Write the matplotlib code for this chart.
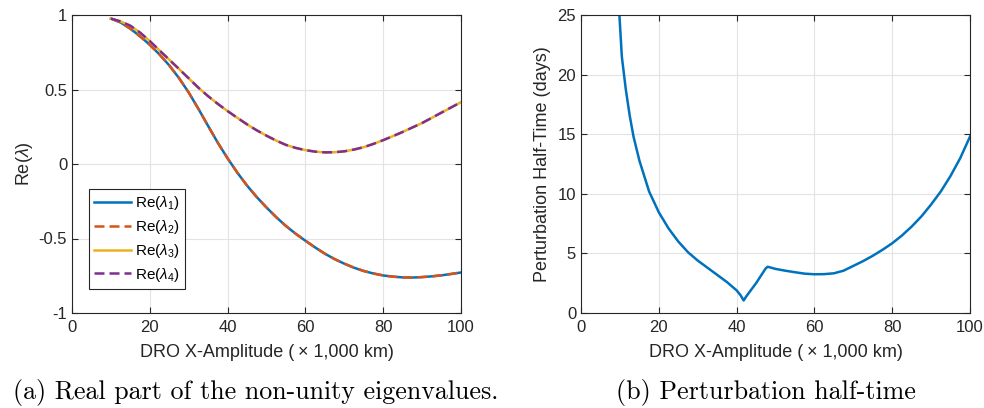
import numpy as np
import matplotlib
matplotlib.use("Agg")
import matplotlib.pyplot as plt

# DRO amplitude (x 1,000 km) and real part of eigenvalues
amp = [10, 12.5, 15, 17.5, 20, 22.5, 25, 27.5, 30, 32.5, 35, 37.5, 40, 42.5, 45,
       47.5, 50, 52.5, 55, 57.5, 60, 62.5, 65, 67.5, 70, 72.5, 75, 77.5, 80, 82.5,
       85, 87.5, 90, 92.5, 95, 97.5, 100]
re_l12 = [0.976, 0.95, 0.908, 0.857, 0.80, 0.735, 0.662, 0.577, 0.48, 0.37, 0.255,
          0.142, 0.038, -0.058, -0.145, -0.222, -0.292, -0.357, -0.416, -0.468, -0.515,
          -0.56, -0.602, -0.638, -0.669, -0.696, -0.718, -0.735, -0.748, -0.756, -0.761,
          -0.762, -0.759, -0.754, -0.747, -0.738, -0.728]
re_l34 = [0.976, 0.957, 0.928, 0.882, 0.825, 0.762, 0.70, 0.638, 0.575, 0.512, 0.455,
          0.403, 0.355, 0.31, 0.266, 0.226, 0.19, 0.157, 0.128, 0.108, 0.093, 0.083,
          0.078, 0.079, 0.085, 0.097, 0.113, 0.135, 0.16, 0.187, 0.215, 0.245, 0.275,
          0.31, 0.345, 0.38, 0.415]

# perturbation half-time (days)
amp_ht = [9.8, 10.5, 11.5, 12.5, 13.5, 15, 17.5, 20, 22.5, 25, 27.5, 30, 32.5, 35,
          37.5, 40, 41, 41.8, 42.5, 45, 47.5, 48, 50, 52.5, 55, 57.5, 60, 62.5, 65,
          67.5, 70, 72.5, 75, 77.5, 80, 82.5, 85, 87.5, 90, 92.5, 95, 97.5, 100]
half_time = [25.4, 21.5, 18.8, 16.6, 14.8, 12.8, 10.2, 8.45, 7.1, 6.0, 5.1, 4.4, 3.8,
             3.2, 2.6, 1.9, 1.5, 1.05, 1.4, 2.5, 3.75, 3.88, 3.7, 3.55, 3.42, 3.3,
             3.25, 3.26, 3.33, 3.55, 3.95, 4.35, 4.8, 5.3, 5.85, 6.5, 7.25, 8.1, 9.1,
             10.2, 11.5, 13.0, 14.8]

c_blue = "#0072BD"
c_orange = "#D95319"
c_yellow = "#EDB120"
c_purple = "#7E2F8E"
dark = "#262626"

plt.rcParams['font.family'] = ['Liberation Sans', 'DejaVu Sans']
plt.rcParams['mathtext.fontset'] = 'custom'
plt.rcParams['mathtext.rm'] = 'Liberation Sans'
plt.rcParams['mathtext.it'] = 'Liberation Sans:italic'

fig = plt.figure(figsize=(9.84, 4.08), dpi=100)
ax1 = fig.add_axes([72 / 984, 95 / 408, 389 / 984, 298 / 408])
ax2 = fig.add_axes([581 / 984, 95 / 408, 389 / 984, 298 / 408])


def style(ax):
    ax.grid(True, color="#e3e3e3", lw=0.8)
    ax.set_axisbelow(True)
    for s in ax.spines.values():
        s.set_color(dark)
        s.set_linewidth(0.8)
    ax.tick_params(direction="in", length=4, width=0.8, colors=dark,
                   top=True, right=True, labelsize=12)
    ax.tick_params(axis="x", pad=5)
    ax.tick_params(axis="y", pad=3.5)
    ax.set_xlim(0, 100)
    ax.set_xticks([0, 20, 40, 60, 80, 100])
    ax.set_xlabel("DRO X-Amplitude (\u2009\u00d7 1,000 km)", color=dark, fontsize=13)
    ax.xaxis.label.set_verticalalignment("center")
    ax.xaxis.set_label_coords(0.5, -0.134)


lw = 1.8
dash = (4, 2)
ax1.plot(amp, re_l12, color=c_blue, lw=lw, label=r"Re($\lambda_{\mathrm{1}}$)")
ax1.plot(amp, re_l12, color=c_orange, lw=lw, dashes=dash, label=r"Re($\lambda_{\mathrm{2}}$)")
ax1.plot(amp, re_l34, color=c_yellow, lw=lw, label=r"Re($\lambda_{\mathrm{3}}$)")
ax1.plot(amp, re_l34, color=c_purple, lw=lw, dashes=dash, label=r"Re($\lambda_{\mathrm{4}}$)")
style(ax1)
ax1.set_ylim(-1, 1)
ax1.set_yticks([-1, -0.5, 0, 0.5, 1])
ax1.set_yticklabels(["-1", "-0.5", "0", "0.5", "1"])
ax1.set_ylabel(r"Re($\lambda$)", color=dark, fontsize=13)
ax1.yaxis.label.set_verticalalignment("center")
ax1.yaxis.set_label_coords(-0.121, 0.5)
leg = ax1.legend(loc="lower left", bbox_to_anchor=(0.044, 0.08), borderaxespad=0,
                 fontsize=11, fancybox=False, framealpha=1, edgecolor=dark,
                 handlelength=2.4, handletextpad=0.26, labelspacing=0.38,
                 borderpad=0.35)
leg.get_frame().set_linewidth(0.8)

ax2.plot(amp_ht, half_time, color=c_blue, lw=lw)
style(ax2)
ax2.set_ylim(0, 25)
ax2.set_yticks([0, 5, 10, 15, 20, 25])
ax2.set_ylabel("Perturbation Half-Time (days)", color=dark, fontsize=13)
ax2.yaxis.label.set_verticalalignment("center")
ax2.yaxis.set_label_coords(-0.0977, 0.5)

fig.text(256 / 984, 1 - 399 / 408, "(a) Real part of the non-unity eigenvalues.",
         family="cmr10", fontsize=18.7, ha="center", va="baseline")
fig.text(766 / 984, 1 - 399 / 408, "(b) Perturbation half-time",
         family="cmr10", fontsize=18.7, ha="center", va="baseline")

fig.savefig("out.png", dpi=100)
